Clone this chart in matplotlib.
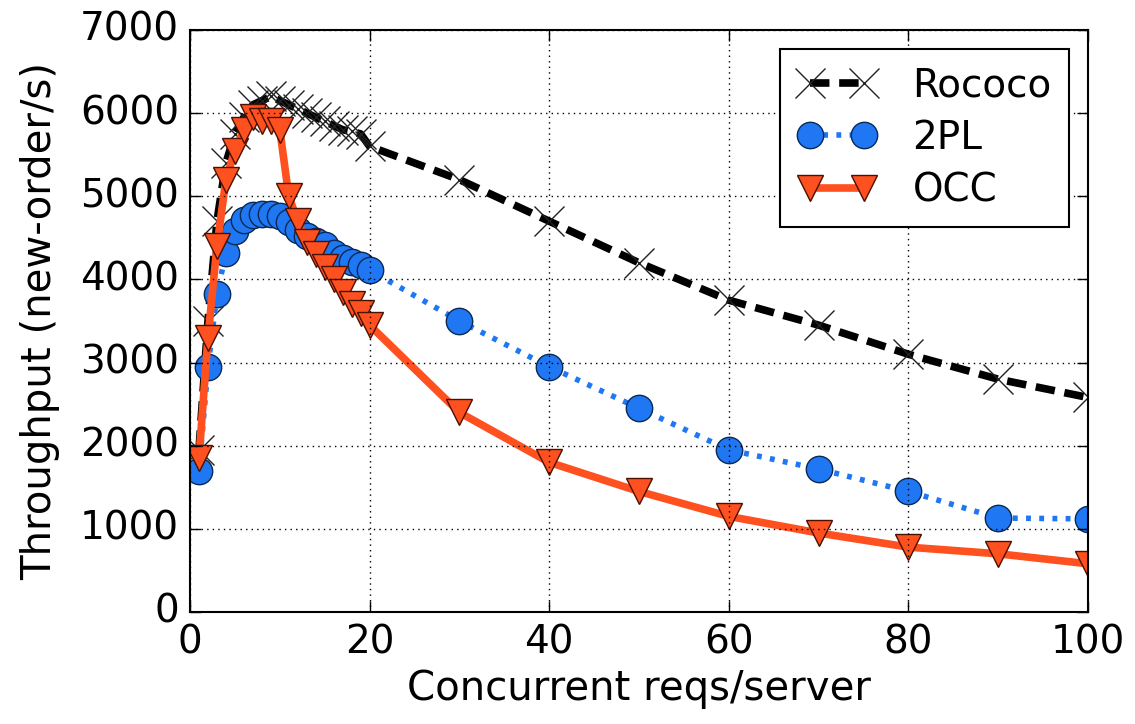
import matplotlib
matplotlib.use("Agg")
import matplotlib.pyplot as plt

x_vals = list(range(1, 21)) + [30, 40, 50, 60, 70, 80, 90, 100]

rococo = [1950, 3500, 4700, 5400, 5750, 5950, 6100, 6150, 6200, 6150,
          6100, 6050, 6000, 5950, 5900, 5850, 5800, 5780, 5750, 5600,
          5200, 4700, 4200, 3750, 3450, 3100, 2800, 2580]
twopl = [1700, 2950, 3820, 4320, 4580, 4720, 4770, 4790, 4790, 4760,
         4690, 4600, 4520, 4460, 4410, 4320, 4260, 4210, 4170, 4110,
         3500, 2950, 2450, 1950, 1720, 1450, 1130, 1120]
occ = [1850, 3300, 4400, 5200, 5550, 5800, 5950, 5900, 5900, 5800,
       5000, 4700, 4450, 4300, 4150, 4000, 3850, 3700, 3600, 3450,
       2400, 1800, 1450, 1150, 950, 780, 700, 580]

series_names = ["Rococo", "2PL", "OCC"]
x_ticks = [0, 20, 40, 60, 80, 100]
y_ticks = [0, 1000, 2000, 3000, 4000, 5000, 6000, 7000]

plt.style.use("classic")
plt.rcParams["font.family"] = ["DejaVu Sans"]

fig = plt.figure(figsize=(11.35, 7.24), dpi=100, facecolor="white")
ax = fig.add_axes([0.1674, 0.1547, 0.7912, 0.8039])
ax.set_facecolor("white")

ax.plot(x_vals, rococo, color="black", linestyle="--", linewidth=5.5,
        marker="x", markersize=21, markeredgewidth=1.0, markeredgecolor="#222222",
        label=series_names[0], dashes=(14, 7))
ax.plot(x_vals, twopl, color="#1f77f4", linestyle=":", linewidth=4,
        marker="o", markersize=19, markerfacecolor="#1f77f4", markeredgecolor="#0a2a55",
        markeredgewidth=1.0, label=series_names[1], dashes=(3.5, 6))
ax.plot(x_vals, occ, color="#ff5020", linestyle="-", linewidth=5.5,
        marker="v", markersize=19, markerfacecolor="#ff5020", markeredgecolor="#4a1000",
        markeredgewidth=1.0, label=series_names[2])

ax.set_xlim(0, 100)
ax.set_ylim(0, 7000)
ax.set_xticks(x_ticks)
ax.set_yticks(y_ticks)
ax.tick_params(labelsize=28, direction="in", length=8, width=1, pad=8)
ax.grid(True, linestyle=":", color="black", linewidth=1)
ax.set_xlabel("Concurrent reqs/server", fontsize=29, labelpad=6)
ax.set_ylabel("Throughput (new-order/s)", fontsize=29, labelpad=14)
for s in ax.spines.values():
    s.set_linewidth(1.5)

leg = ax.legend(loc="upper right", fontsize=28, numpoints=2, handlelength=2.0,
                handletextpad=0.95, borderaxespad=0.48, labelspacing=0.38,
                borderpad=0.45, frameon=True, fancybox=False)
leg.get_frame().set_edgecolor("black")
leg.get_frame().set_linewidth(1.5)

fig.savefig("out.png", dpi=100, facecolor="white")
